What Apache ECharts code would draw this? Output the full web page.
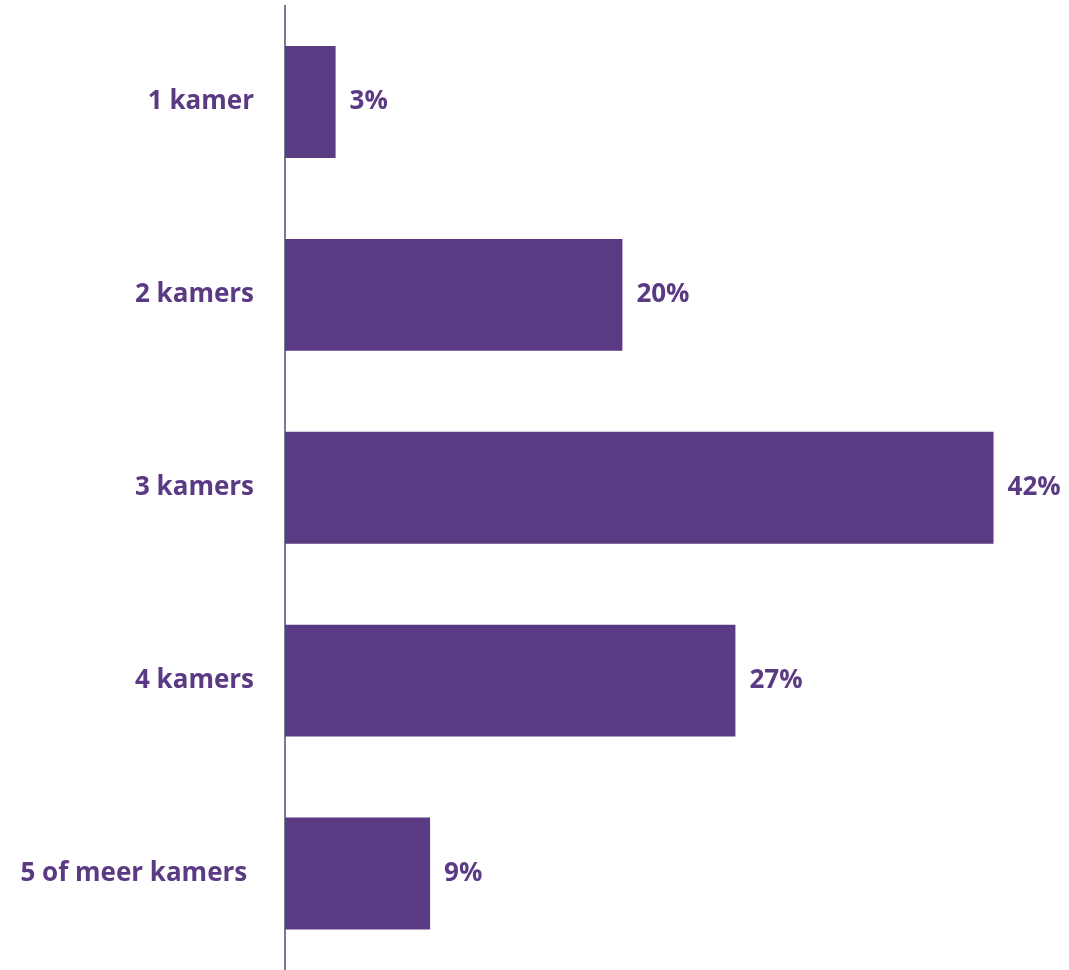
<!DOCTYPE html>
<html><head><meta charset="utf-8">
<script src="https://cdn.jsdelivr.net/npm/echarts@6/dist/echarts.min.js"></script>
<style>html,body{margin:0;padding:0;background:#fff}#c{width:1069px;height:970px}</style>
</head><body><div id="c"></div>
<script>
const categories = ["1 kamer", "2 kamers", "3 kamers", "4 kamers", "5 of meer kamers "];
const values = [3.0, 20.0, 42.0, 26.7, 8.6];
const valueLabels = ["3%", "20%", "42%", "27%", "9%"];

const purple = "#5B3A84";
const chart = echarts.init(document.getElementById('c'));
chart.setOption({
  animation: false,
  grid: { left: 285, right: 8, top: 5.5, bottom: -4, containLabel: false },
  xAxis: { type: 'value', min: 0, max: 46, show: false },
  yAxis: {
    type: 'category', data: categories, inverse: true,
    axisLine: { show: true, lineStyle: { color: '#44546A', width: 1.5 } },
    axisTick: { show: false },
    axisLabel: { margin: 31, color: purple, fontSize: 26, fontWeight: 'bold', fontFamily: 'Open Sans' }
  },
  series: [{
    type: 'bar', data: values, barWidth: '58%',
    itemStyle: { color: purple },
    label: {
      show: true, position: 'right', distance: 14,
      color: purple, fontSize: 26, fontWeight: 'bold', fontFamily: 'Open Sans',
      formatter: p => valueLabels[p.dataIndex]
    }
  }]
});
</script></body></html>
